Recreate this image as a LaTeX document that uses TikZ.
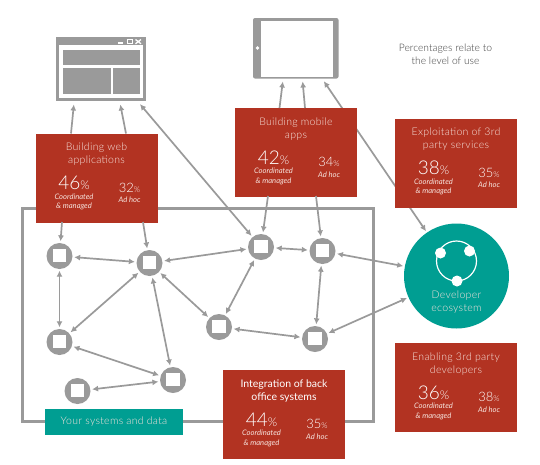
\documentclass[tikz,border=0pt]{standalone}
\usepackage{fontspec}
\setmainfont{Lato}
\newfontfamily\lightf[LetterSpace=3]{Lato Light}
\newfontfamily\numf{Lato Light}
\usetikzlibrary{arrows.meta,calc}
\definecolor{rd}{HTML}{B23322}
\definecolor{tl}{HTML}{009E92}
\definecolor{gy}{HTML}{9A9A9A}
\definecolor{pale}{HTML}{F6E2DC}
\tikzset{
 x=1pt,y=-1pt,
 redbox/.style={fill=rd,draw=none,inner sep=0pt,minimum width=122pt,minimum height=89pt},
 sysnode/.style={circle,fill=gy,draw=none,minimum size=26pt,inner sep=0pt},
 ttl/.style={text=pale,align=center,font=\lightf\fontsize{10.5}{13}\selectfont,inner sep=0pt},
 lnk/.style={draw=gy,line width=1.7pt,{Latex[length=6pt,width=6pt]}-{Latex[length=6pt,width=6pt]},shorten <=1.5pt,shorten >=1.5pt},
 oneway/.style={draw=gy,line width=1.7pt,-{Latex[length=6pt,width=6pt]},shorten >=1.5pt},
 bignum/.style={text=white,inner sep=0pt,font=\numf\fontsize{19}{20}\selectfont},
 smallnum/.style={text=white,inner sep=0pt,font=\numf\fontsize{13}{14}\selectfont},
 captxt/.style={text=pale,align=center,inner sep=0pt,font=\fontsize{7.6}{9.5}\selectfont\itshape},
}
\newcommand{\redpanel}[6]{%
 \node[redbox,anchor=north west] (#1) at (#2,#3) {};
 \node[ttl] (#1t) at ($(#2,#3)+(61,21)$) {#4};
 \node[bignum] (#1b) at ($(#2,#3)+(38.5,49.5)$) {#5{\fontsize{12}{12}\selectfont\%}};
 \node[captxt] (#1c) at ($(#2,#3)+(38.5,68.5)$) {Coordinated\\\& managed};
 \node[smallnum] (#1s) at ($(#2,#3)+(94,54)$) {#6{\fontsize{8}{8}\selectfont\%}};
 \node[captxt] (#1d) at ($(#2,#3)+(94,66.5)$) {Ad hoc};
}
\begin{document}
\begin{tikzpicture}
\useasboundingbox (0,0) rectangle (540,464);
\fill[white] (0,0) rectangle (540,464);
% systems frame
\draw[gy,line width=3pt] (22,208) rectangle (373,421);
% browser
\fill[gy] (56,37) rectangle (146,101);
\fill[white] (59,44.5) rectangle (143,98);
\fill[gy] (63,49.5) rectangle (140,64.5);
\fill[gy] (63,68) rectangle (111,94);
\fill[gy] (113,68) rectangle (140,94);
\fill[white] (118,42) rectangle (122.5,43.5);
\draw[white,line width=1pt] (127.5,39.5) rectangle (132,43.5);
\draw[white,line width=1.3pt] (135.5,39.5) -- (141,43.8) (141,39.5) -- (135.5,43.8);
\coordinate (bwa) at (74,103); \coordinate (bwb) at (120,103); \coordinate (bwc) at (139,103);
% tablet
\fill[gy,rounded corners=2pt] (253,18) rectangle (338.5,78.5);
\fill[white] (261,20.5) rectangle (333,76.5);
\fill[white] (257.5,48) circle (1.8);
\coordinate (tba) at (283,80); \coordinate (tbb) at (302.5,80); \coordinate (tbc) at (323,80);
% system nodes
\node[sysnode] (A) at (59.5,256) {};
\node[sysnode] (B) at (149.5,263) {};
\node[sysnode] (C) at (261,247) {};
\node[sysnode] (D) at (322.5,251) {};
\node[sysnode] (E) at (219,327) {};
\node[sysnode] (F) at (59.5,342) {};
\node[sysnode] (G) at (173,380) {};
\node[sysnode] (H) at (77.5,391) {};
\node[sysnode] (I) at (315,339) {};
\foreach \n in {A,B,C,D,E,F,G,H,I}{\fill[white] ($(\n)+(-6.75,-7.5)$) rectangle ($(\n)+(6.75,6)$);}
% ecosystem
\node[circle,fill=tl,minimum size=105pt,inner sep=0pt] (eco) at (456.5,276) {};
\draw[white,line width=1.2pt] (456.5,261) circle (20);
\fill[white] (440.5,253) circle (5.5) (469.5,251) circle (5.5) (457,281) circle (5.5);
\node[text=pale,align=center,inner sep=0pt,font=\lightf\fontsize{10.5}{13}\selectfont] (ecot) at (456.5,302) {Developer\\ecosystem};
% connectors
\draw[lnk] (A) -- (B);
\draw[lnk] (A) -- (F);
\draw[lnk] (B) -- (F);
\draw[lnk] (B) -- (G);
\draw[lnk] (B) -- (E);
\draw[lnk] (B) -- (C);
\draw[lnk] (C) -- (D);
\draw[lnk] (C) -- (E);
\draw[lnk] (D) -- (I);
\draw[lnk] (E) -- (I);
\draw[lnk] (F) -- (G);
\draw[lnk] (H) -- (G);
\draw[lnk] (D) -- (eco);
\draw[lnk] (I) -- (eco);
\draw[lnk] (bwc) -- (C);
\draw[lnk] (tbc) -- (eco);
% red boxes
\redpanel{web}{35.5}{133.5}{Building web\\applications}{46}{32}
\redpanel{mob}{235}{108}{Building mobile\\apps}{42}{34}
\redpanel{exp}{395}{118.5}{Exploitation of 3rd\\party services}{38}{35}
\redpanel{ena}{395}{343}{Enabling 3rd party\\developers}{36}{38}
\redpanel{int}{223}{370}{\normalfont\fontsize{10.5}{13}\selectfont\textcolor{white}{Integration of back}\\\normalfont\fontsize{10.5}{13}\selectfont\textcolor{white}{office systems}}{44}{35}
% one-way connectors from boxes
\coordinate (wa) at (71,133.5); \coordinate (wb) at (126,133.5);
\coordinate (wc) at (62,222); \coordinate (wd) at (143,222);
\coordinate (ma) at (279.5,108); \coordinate (mb) at (305,108);
\coordinate (mc) at (268,196); \coordinate (md) at (316,196);
\draw[oneway] (wa) -- (bwa);
\draw[oneway] (wb) -- (bwb);
\draw[oneway] (wc) -- (A);
\draw[oneway] (wd) -- (B);
\draw[oneway] (ma) -- (tba);
\draw[oneway] (mb) -- (tbb);
\draw[oneway] (mc) -- (C);
\draw[oneway] (md) -- (D);
% teal label
\node[fill=tl,text=pale,minimum width=138pt,minimum height=26pt,inner sep=0pt,font=\lightf\fontsize{10.5}{13}\selectfont] (sys) at (114,422) {Your systems and data};
% note
\node[text=black!75,align=center,inner sep=0pt,font=\numf\fontsize{10.3}{12.8}\selectfont] (note) at (445.5,54) {Percentages relate to\\the level of use};
\end{tikzpicture}
\end{document}
